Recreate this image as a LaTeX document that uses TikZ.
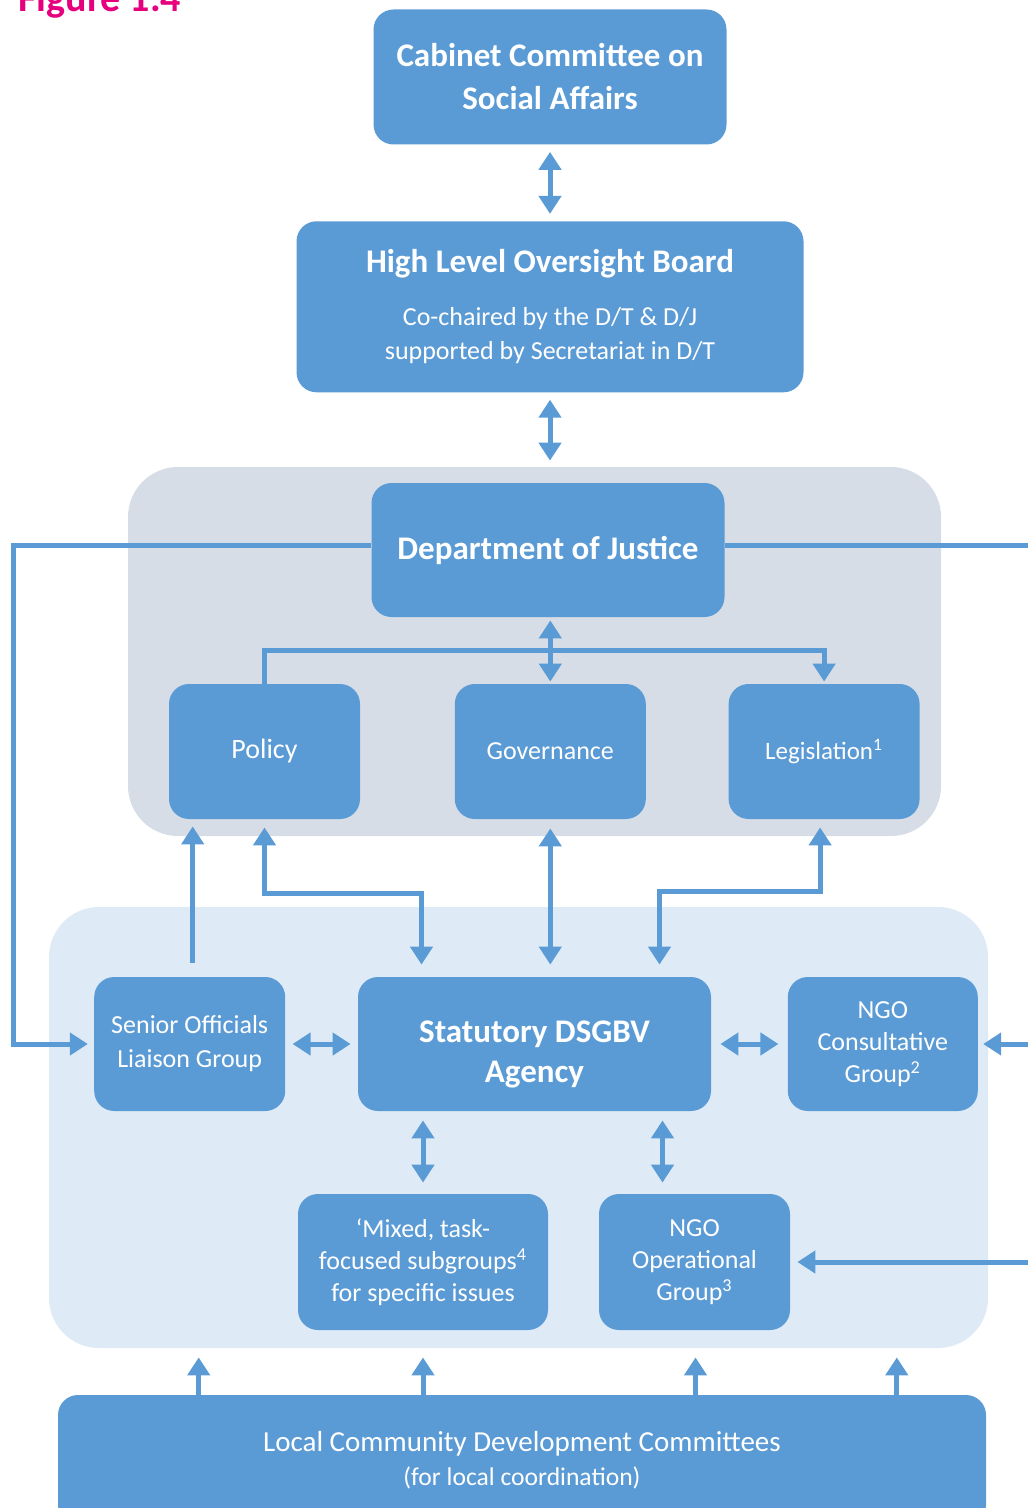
\documentclass[tikz,border=0pt]{standalone}
\usepackage{fontspec}
\setmainfont{Carlito}
\usetikzlibrary{arrows.meta, positioning}

\definecolor{unitblue}{HTML}{5B9BD5}
\definecolor{justicegrey}{HTML}{D6DDE7}
\definecolor{agencyblue}{HTML}{DEEAF6}
\definecolor{figmagenta}{HTML}{E6007E}

\tikzset{
  unit/.style={rectangle, rounded corners=10pt, fill=unitblue, text=white,
    inner sep=0pt, align=center, font=\fontsize{13}{16}\selectfont},
  bigunit/.style={unit, font=\bfseries\fontsize{16.5}{21.5}\selectfont},
  panel/.style={rectangle, rounded corners=25pt, inner sep=0pt},
  link/.style={draw=unitblue, line width=2.5pt, -{Triangle[width=11pt,length=9pt]}},
  twoway/.style={link, {Triangle[width=11pt,length=9pt]}-{Triangle[width=11pt,length=9pt]}},
}

\begin{document}
\begin{tikzpicture}[x=0.5pt, y=-0.5pt]
\useasboundingbox (0,0) rectangle (1027,1508);

% Add the panels
\node[panel, fill=justicegrey, minimum width=406.5pt, minimum height=184.5pt] (justicepanel) at (534.5,651.5) {};
\node[panel, fill=agencyblue, minimum width=469.5pt, minimum height=220.5pt] (agencypanel) at (518.5,1127.5) {};

\node[anchor=base west, inner sep=0pt, text=figmagenta, font=\bfseries\fontsize{20}{20}\selectfont] (figtitle) at (18,12) {Figure 1.4};

% Add the units
\node[bigunit,
		minimum width=176.5pt,
		minimum height=67.5pt] (cabinet) at (550,77) {Cabinet Committee on\\Social Affairs};

\node[unit,
		below=38pt of cabinet,
		minimum width=253.5pt,
		minimum height=85.5pt,
		font=\fontsize{13}{17}\selectfont] (hlob) {{\bfseries\fontsize{16.5}{17}\selectfont High Level Oversight Board}\\[9.5pt]Co-chaired by the D/T \& D/J\\supported by Secretariat in D/T};

\node[bigunit,
		minimum width=176.5pt,
		minimum height=67pt] (doj) at (548,550) {Department of Justice};

\node[unit,
		minimum width=95.5pt,
		minimum height=67.5pt,
		font=\fontsize{14}{16}\selectfont] (policy) at (264.5,751.5) {Policy};

\node[unit,
		right=47pt of policy,
		minimum width=95.5pt,
		minimum height=67.5pt] (governance) {Governance};

\node[unit,
		right=41pt of governance,
		minimum width=95.5pt,
		minimum height=67.5pt,
		font=\fontsize{12.5}{16}\selectfont] (legislation) {Legislation\textsuperscript{1}};

\node[bigunit,
		minimum width=176.5pt,
		minimum height=67pt,
		font=\bfseries\fontsize{16.5}{20}\selectfont] (statutory) at (534.5,1044) {\rule{0pt}{21pt}Statutory DSGBV\\Agency};

\node[unit,
		left=36pt of statutory,
		minimum width=95.5pt,
		minimum height=67pt,
		font=\fontsize{13}{17}\selectfont] (senior) {Senior Officials\\Liaison Group};

\node[unit,
		right=38pt of statutory,
		minimum width=95pt,
		minimum height=67pt] (ngocons) {NGO\\Consultative\\Group\textsuperscript{2}};

\node[unit,
		minimum width=125pt,
		minimum height=68pt] (mixed) at (423,1262) {‘Mixed, task-\\focused subgroups\textsuperscript{4}\\for specific issues};

\node[unit,
		minimum width=95.5pt,
		minimum height=68pt] (ngoop) at (694.5,1262) {NGO\\Operational\\Group\textsuperscript{3}};

\node[unit,
		minimum width=464pt,
		minimum height=65pt,
		font=\fontsize{14.5}{17}\selectfont] (local) at (522,1460) {Local Community Development Committees\\{\fontsize{12.8}{17}\selectfont (for local coordination)}};

\coordinate (leftrail) at (13,0);
\coordinate (rightedge) at (1040,0);

% Add the links
\draw[twoway, shorten <=3.5pt, shorten >=3.5pt] (hlob.north |- cabinet.south) -- (hlob.north);
\draw[twoway, shorten <=3.5pt, shorten >=3pt] (hlob.south) -- (hlob.south |- justicepanel.north);
\draw[twoway, shorten <=1.5pt, shorten >=1pt] (governance.north |- doj.south) -- (governance.north);
\draw[link, shorten >=1pt] (policy.north) |- ([yshift=16.5pt]governance.north) -| (legislation.north);

\draw[link, shorten >=3pt] ([yshift=2.5pt]doj.west) -| (leftrail |- senior.west) -- (senior.west);
\draw[link, -] ([yshift=2.5pt]doj.east) -- ([yshift=2.5pt]doj.east -| rightedge);
\draw[link, shorten >=2.5pt] (ngocons.east -| rightedge) -- (ngocons.east);
\draw[link, shorten >=3.5pt] (ngoop.east -| rightedge) -- (ngoop.east);

\draw[link, shorten <=7pt, shorten >=3.5pt] ([xshift=1.5pt]senior.north) -- ([xshift=1.5pt]senior.north |- policy.south);
\draw[twoway, shorten <=4pt, shorten >=6pt] (policy.south) -- ++(0,74) -| ([xshift=-56.5pt]statutory.north);
\draw[twoway, shorten <=4.5pt, shorten >=6pt] (governance.south) -- (governance.south |- statutory.north);
\draw[twoway, shorten <=4pt, shorten >=6pt] ([xshift=-2pt]legislation.south) -- ++(0,72) -| ([xshift=62.5pt]statutory.north);

\draw[twoway, shorten <=3.5pt, shorten >=3.5pt] (senior) -- (statutory);
\draw[twoway, shorten <=4.5pt, shorten >=4.5pt] (statutory) -- (ngocons);
\draw[twoway, shorten <=4.5pt, shorten >=5.5pt] (mixed.north |- statutory.south) -- (mixed.north);
\draw[twoway, shorten <=4.5pt, shorten >=5.5pt] ([xshift=64pt]statutory.south) -- ([xshift=64pt]statutory.south |- ngoop.north);

\foreach \unit/\dx in {senior/4.5pt, mixed/0pt, ngoop/0.5pt, ngocons/7pt}
	\draw[link, shorten >=4.5pt] ([xshift=\dx]local.north -| \unit) -- ([xshift=\dx]\unit |- agencypanel.south);
\end{tikzpicture}
\end{document}
